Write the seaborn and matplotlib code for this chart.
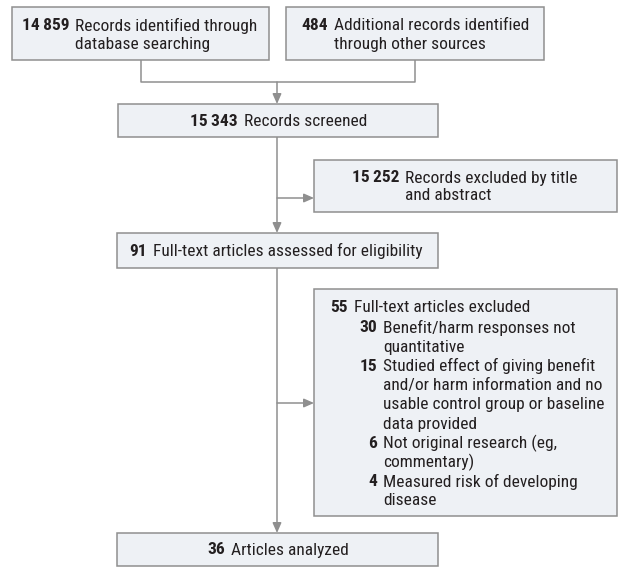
import matplotlib
matplotlib.use("Agg")
import matplotlib.pyplot as plt
import seaborn as sns
from matplotlib.patches import Rectangle

# ---- data ----
stage_counts = [14859, 484, 15343, 15252, 91, 55, 36]
stage_labels = [
    ["Records identified through", "database searching"],
    ["Additional records identified", "through other sources"],
    ["Records screened"],
    ["Records excluded by title", "and abstract"],
    ["Full-text articles assessed for eligibility"],
    ["Full-text articles excluded"],
    ["Articles analyzed"],
]
reason_counts = [30, 15, 6, 4]
reason_labels = [
    ["Benefit/harm responses not", "quantitative"],
    ["Studied effect of giving benefit", "and/or harm information and no",
     "usable control group or baseline", "data provided"],
    ["Not original research (eg,", "commentary)"],
    ["Measured risk of developing", "disease"],
]

# ---- style ----
sns.set_theme(style="white")
FONT = ["Roboto Condensed", "DejaVu Sans"]
plt.rcParams["font.family"] = FONT
FS = 12.5
FILL = "#eef1f5"
EDGE = "#8f8f8f"
LINE = "#8f8f8f"
TXT = "#231f20"

fig = plt.figure(figsize=(6.18, 5.87), dpi=100)
ax = fig.add_axes([0, 0, 1, 1])
ax.set_xlim(0, 618)
ax.set_ylim(587, 0)
ax.axis("off")


def fmt(n):
    s = f"{n:,}"
    return s.replace(",", "\u2009")


def box(x0, y0, x1, y1):
    ax.add_patch(Rectangle((x0, y0), x1 - x0, y1 - y0, facecolor=FILL,
                           edgecolor=EDGE, linewidth=1.1, zorder=2))


def entry(num_x, y, n, lines, dy=18.5):
    ax.text(num_x, y, fmt(n), ha="right", va="center", fontsize=FS,
            fontweight="bold", color=TXT, zorder=3)
    for i, t in enumerate(lines):
        ax.text(num_x + 6, y + i * dy, t, ha="left", va="center",
                fontsize=FS, color=TXT, zorder=3)


def arrow(x0, y0, x1, y1):
    ax.annotate("", xy=(x1, y1), xytext=(x0, y0),
                arrowprops=dict(arrowstyle="-|>,head_length=0.5,head_width=0.22",
                                color=LINE, lw=1.1, shrinkA=0, shrinkB=0),
                zorder=1)


def line(xs, ys):
    ax.plot(xs, ys, color=LINE, lw=1.1, zorder=1, solid_capstyle="butt")


# boxes
boxes = [
    (12, 7, 269, 60),
    (286, 7, 544, 60),
    (118, 104, 438, 137),
    (314, 160, 617, 212),
    (117, 233, 438, 268),
    (314, 289, 617, 516),
    (117, 533, 438, 566),
]
for b in boxes:
    box(*b)

entry(69, 26, stage_counts[0], stage_labels[0], dy=18)
entry(328, 26, stage_counts[1], stage_labels[1], dy=18)
entry(238, 121, stage_counts[2], stage_labels[2])
entry(399, 178, stage_counts[3], stage_labels[3], dy=18)
entry(147, 251, stage_counts[4], stage_labels[4])
entry(348, 307, stage_counts[5], stage_labels[5])
entry(225, 550, stage_counts[6], stage_labels[6])

# reasons
y = 328
for n, lines in zip(reason_counts, reason_labels):
    entry(377, y, n, lines, dy=19.2)
    y += 19.2 * len(lines)

# connectors
line([141, 141, 415, 415], [60, 82, 82, 60])
arrow(277, 82, 277, 104)
arrow(277, 137, 277, 233)
arrow(277, 198, 314, 198)
arrow(277, 268, 277, 533)
arrow(277, 403, 314, 403)

fig.savefig("out.png", dpi=100, facecolor="white")
